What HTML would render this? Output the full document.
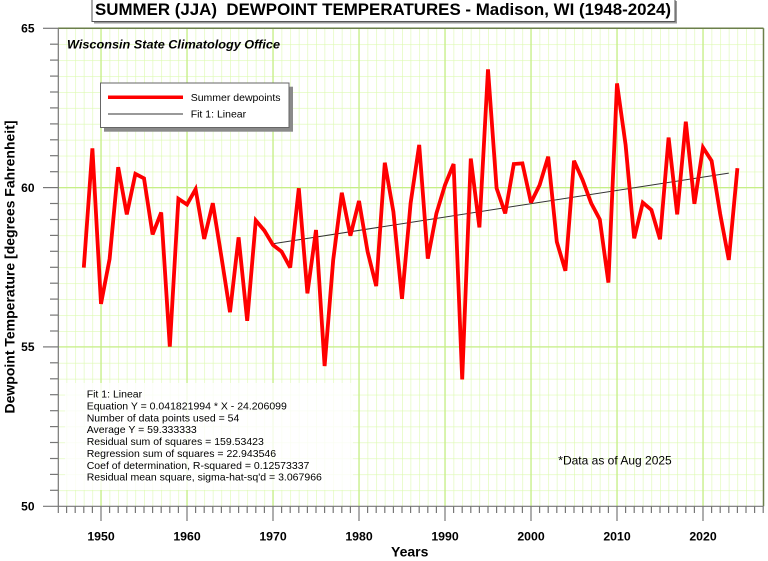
<!DOCTYPE html>
<html>
<head>
<meta charset="utf-8">
<style>
  html,body{margin:0;padding:0;background:#fff;}
  svg{display:block;}
  text{font-family:"Liberation Sans",Arial,sans-serif;}
</style>
</head>
<body>
<svg width="768" height="561" viewBox="0 0 768 561" xmlns="http://www.w3.org/2000/svg">
  <defs>
    <pattern id="grid" patternUnits="userSpaceOnUse" x="58" y="28.27" width="8.6" height="15.933">
      <line x1="0" y1="0" x2="0" y2="15.933" stroke="#dcf9b0" stroke-width="1.2"/>
      <line x1="0" y1="0" x2="8.6" y2="0" stroke="#dcf9b0" stroke-width="1.2"/>
    </pattern>
  </defs>
  <rect width="768" height="561" fill="#fff"/>
  <!-- plot grid -->
  <rect x="58" y="28.27" width="705.2" height="478" fill="url(#grid)"/>
  <!-- decade grid lines -->
  <g stroke="#c6ee88" stroke-width="1.3">
    <line x1="101" y1="28.3" x2="101" y2="506.3"/>
    <line x1="187" y1="28.3" x2="187" y2="506.3"/>
    <line x1="273" y1="28.3" x2="273" y2="506.3"/>
    <line x1="359" y1="28.3" x2="359" y2="506.3"/>
    <line x1="445" y1="28.3" x2="445" y2="506.3"/>
    <line x1="531" y1="28.3" x2="531" y2="506.3"/>
    <line x1="617" y1="28.3" x2="617" y2="506.3"/>
    <line x1="703" y1="28.3" x2="703" y2="506.3"/>
    <line x1="58" y1="187.6" x2="763" y2="187.6"/>
    <line x1="58" y1="346.9" x2="763" y2="346.9"/>
  </g>

  <!-- stats box -->
  <rect x="65" y="383" width="288" height="107" fill="#fff" opacity="0.8"/>

  <!-- frame -->
  <line x1="58" y1="28.3" x2="763.5" y2="28.3" stroke="#6b7f4a" stroke-width="1.5"/>
  <line x1="763.5" y1="28.3" x2="763.5" y2="506.3" stroke="#6b7f4a" stroke-width="1.5"/>
  <line x1="58.3" y1="28.3" x2="58.3" y2="506.3" stroke="#777" stroke-width="1.2"/>
  <line x1="43" y1="506.3" x2="763.5" y2="506.3" stroke="#777" stroke-width="1.2"/>

  <!-- y ticks -->
  <g stroke="#777" stroke-width="1.2">
    <line x1="43" y1="28.3" x2="58" y2="28.3"/>
    <line x1="43" y1="187.6" x2="58" y2="187.6"/>
    <line x1="43" y1="346.9" x2="58" y2="346.9"/>
    <line x1="50" y1="44.2" x2="58" y2="44.2"/>
    <line x1="50" y1="60.1" x2="58" y2="60.1"/>
    <line x1="50" y1="76.1" x2="58" y2="76.1"/>
    <line x1="50" y1="92.0" x2="58" y2="92.0"/>
    <line x1="50" y1="107.9" x2="58" y2="107.9"/>
    <line x1="50" y1="123.9" x2="58" y2="123.9"/>
    <line x1="50" y1="139.8" x2="58" y2="139.8"/>
    <line x1="50" y1="155.7" x2="58" y2="155.7"/>
    <line x1="50" y1="171.7" x2="58" y2="171.7"/>
    <line x1="50" y1="203.5" x2="58" y2="203.5"/>
    <line x1="50" y1="219.5" x2="58" y2="219.5"/>
    <line x1="50" y1="235.4" x2="58" y2="235.4"/>
    <line x1="50" y1="251.3" x2="58" y2="251.3"/>
    <line x1="50" y1="267.3" x2="58" y2="267.3"/>
    <line x1="50" y1="283.2" x2="58" y2="283.2"/>
    <line x1="50" y1="299.1" x2="58" y2="299.1"/>
    <line x1="50" y1="315.1" x2="58" y2="315.1"/>
    <line x1="50" y1="331.0" x2="58" y2="331.0"/>
    <line x1="50" y1="362.8" x2="58" y2="362.8"/>
    <line x1="50" y1="378.8" x2="58" y2="378.8"/>
    <line x1="50" y1="394.7" x2="58" y2="394.7"/>
    <line x1="50" y1="410.7" x2="58" y2="410.7"/>
    <line x1="50" y1="426.6" x2="58" y2="426.6"/>
    <line x1="50" y1="442.5" x2="58" y2="442.5"/>
    <line x1="50" y1="458.5" x2="58" y2="458.5"/>
    <line x1="50" y1="474.4" x2="58" y2="474.4"/>
    <line x1="50" y1="490.3" x2="58" y2="490.3"/>
  </g>
  <!-- x ticks -->
  <g stroke="#777" stroke-width="1.2">
    <line x1="58.3" y1="506" x2="58.3" y2="513"/>
    <line x1="66.6" y1="506" x2="66.6" y2="513"/>
    <line x1="75.2" y1="506" x2="75.2" y2="513"/>
    <line x1="83.8" y1="506" x2="83.8" y2="513"/>
    <line x1="92.4" y1="506" x2="92.4" y2="513"/>
    <line x1="101" y1="506" x2="101" y2="521"/>
    <line x1="109.6" y1="506" x2="109.6" y2="513"/>
    <line x1="118.2" y1="506" x2="118.2" y2="513"/>
    <line x1="126.8" y1="506" x2="126.8" y2="513"/>
    <line x1="135.4" y1="506" x2="135.4" y2="513"/>
    <line x1="144" y1="506" x2="144" y2="513"/>
    <line x1="152.6" y1="506" x2="152.6" y2="513"/>
    <line x1="161.2" y1="506" x2="161.2" y2="513"/>
    <line x1="169.8" y1="506" x2="169.8" y2="513"/>
    <line x1="178.4" y1="506" x2="178.4" y2="513"/>
    <line x1="187" y1="506" x2="187" y2="521"/>
    <line x1="195.6" y1="506" x2="195.6" y2="513"/>
    <line x1="204.2" y1="506" x2="204.2" y2="513"/>
    <line x1="212.8" y1="506" x2="212.8" y2="513"/>
    <line x1="221.4" y1="506" x2="221.4" y2="513"/>
    <line x1="230" y1="506" x2="230" y2="513"/>
    <line x1="238.6" y1="506" x2="238.6" y2="513"/>
    <line x1="247.2" y1="506" x2="247.2" y2="513"/>
    <line x1="255.8" y1="506" x2="255.8" y2="513"/>
    <line x1="264.4" y1="506" x2="264.4" y2="513"/>
    <line x1="273" y1="506" x2="273" y2="521"/>
    <line x1="281.6" y1="506" x2="281.6" y2="513"/>
    <line x1="290.2" y1="506" x2="290.2" y2="513"/>
    <line x1="298.8" y1="506" x2="298.8" y2="513"/>
    <line x1="307.4" y1="506" x2="307.4" y2="513"/>
    <line x1="316" y1="506" x2="316" y2="513"/>
    <line x1="324.6" y1="506" x2="324.6" y2="513"/>
    <line x1="333.2" y1="506" x2="333.2" y2="513"/>
    <line x1="341.8" y1="506" x2="341.8" y2="513"/>
    <line x1="350.4" y1="506" x2="350.4" y2="513"/>
    <line x1="359" y1="506" x2="359" y2="521"/>
    <line x1="367.6" y1="506" x2="367.6" y2="513"/>
    <line x1="376.2" y1="506" x2="376.2" y2="513"/>
    <line x1="384.8" y1="506" x2="384.8" y2="513"/>
    <line x1="393.4" y1="506" x2="393.4" y2="513"/>
    <line x1="402" y1="506" x2="402" y2="513"/>
    <line x1="410.6" y1="506" x2="410.6" y2="513"/>
    <line x1="419.2" y1="506" x2="419.2" y2="513"/>
    <line x1="427.8" y1="506" x2="427.8" y2="513"/>
    <line x1="436.4" y1="506" x2="436.4" y2="513"/>
    <line x1="445" y1="506" x2="445" y2="521"/>
    <line x1="453.6" y1="506" x2="453.6" y2="513"/>
    <line x1="462.2" y1="506" x2="462.2" y2="513"/>
    <line x1="470.8" y1="506" x2="470.8" y2="513"/>
    <line x1="479.4" y1="506" x2="479.4" y2="513"/>
    <line x1="488" y1="506" x2="488" y2="513"/>
    <line x1="496.6" y1="506" x2="496.6" y2="513"/>
    <line x1="505.2" y1="506" x2="505.2" y2="513"/>
    <line x1="513.8" y1="506" x2="513.8" y2="513"/>
    <line x1="522.4" y1="506" x2="522.4" y2="513"/>
    <line x1="531" y1="506" x2="531" y2="521"/>
    <line x1="539.6" y1="506" x2="539.6" y2="513"/>
    <line x1="548.2" y1="506" x2="548.2" y2="513"/>
    <line x1="556.8" y1="506" x2="556.8" y2="513"/>
    <line x1="565.4" y1="506" x2="565.4" y2="513"/>
    <line x1="574" y1="506" x2="574" y2="513"/>
    <line x1="582.6" y1="506" x2="582.6" y2="513"/>
    <line x1="591.2" y1="506" x2="591.2" y2="513"/>
    <line x1="599.8" y1="506" x2="599.8" y2="513"/>
    <line x1="608.4" y1="506" x2="608.4" y2="513"/>
    <line x1="617" y1="506" x2="617" y2="521"/>
    <line x1="625.6" y1="506" x2="625.6" y2="513"/>
    <line x1="634.2" y1="506" x2="634.2" y2="513"/>
    <line x1="642.8" y1="506" x2="642.8" y2="513"/>
    <line x1="651.4" y1="506" x2="651.4" y2="513"/>
    <line x1="660" y1="506" x2="660" y2="513"/>
    <line x1="668.6" y1="506" x2="668.6" y2="513"/>
    <line x1="677.2" y1="506" x2="677.2" y2="513"/>
    <line x1="685.8" y1="506" x2="685.8" y2="513"/>
    <line x1="694.4" y1="506" x2="694.4" y2="513"/>
    <line x1="703" y1="506" x2="703" y2="521"/>
    <line x1="711.6" y1="506" x2="711.6" y2="513"/>
    <line x1="720.2" y1="506" x2="720.2" y2="513"/>
    <line x1="728.8" y1="506" x2="728.8" y2="513"/>
    <line x1="737.4" y1="506" x2="737.4" y2="513"/>
    <line x1="746" y1="506" x2="746" y2="513"/>
    <line x1="754.6" y1="506" x2="754.6" y2="513"/>
    <line x1="763.2" y1="506" x2="763.2" y2="513"/>
  </g>

  <!-- tick labels -->
  <g font-size="12" font-weight="bold" fill="#000" text-anchor="end">
    <text x="34.5" y="32.6">65</text>
    <text x="34.5" y="191.9">60</text>
    <text x="34.5" y="351.2">55</text>
    <text x="34.5" y="510.6">50</text>
  </g>
  <g font-size="12.3" font-weight="bold" fill="#000" text-anchor="middle">
    <text x="101" y="540.7">1950</text>
    <text x="187" y="540.7">1960</text>
    <text x="273" y="540.7">1970</text>
    <text x="359" y="540.7">1980</text>
    <text x="445" y="540.7">1990</text>
    <text x="531" y="540.7">2000</text>
    <text x="617" y="540.7">2010</text>
    <text x="703" y="540.7">2020</text>
  </g>
  <text x="391" y="556.5" font-size="14" font-weight="bold" fill="#000">Years</text>
  <text transform="translate(14.5,267) rotate(-90)" text-anchor="middle" font-size="14" font-weight="bold" fill="#000">Dewpoint Temperature [degrees Fahrenheit]</text>

  <!-- fit line -->
  <line x1="273" y1="243.7" x2="728.8" y2="173.1" stroke="#333" stroke-width="1"/>

  <!-- data series -->
  <polyline fill="none" stroke="#ff0000" stroke-width="3.8" stroke-linejoin="miter" stroke-miterlimit="3"
    vector-effect="non-scaling-stroke"
    transform="translate(101,187.6) scale(8.6,-31.867)"
    points="-2,-2.51 -1,1.23 0,-3.65 1,-2.24 2,0.64 3,-0.84 4,0.43 5,0.29 6,-1.47 7,-0.78 8,-4.99 9,-0.35 10,-0.53 11,-0.05 12,-1.61 13,-0.49 14,-2.17 15,-3.91 16,-1.56 17,-4.18 18,-1.03 19,-1.35 20,-1.8 21,-2.01 22,-2.51 23,-0.02 24,-3.32 25,-1.33 26,-5.6 27,-2.27 28,-0.16 29,-1.51 30,-0.42 31,-2.01 32,-3.09 33,0.78 34,-0.76 35,-3.49 36,-0.49 37,1.34 38,-2.23 39,-0.81 40,0.08 41,0.74 42,-6.02 43,0.91 44,-1.25 45,3.71 46,-0.02 47,-0.81 48,0.74 49,0.76 50,-0.47 51,0.08 52,0.97 53,-1.7 54,-2.61 55,0.84 56,0.24 57,-0.49 58,-1.0 59,-2.98 60,3.27 61,1.34 62,-1.59 63,-0.47 64,-0.7 65,-1.62 66,1.57 67,-0.84 68,2.07 69,-0.51 70,1.26 71,0.84 72,-0.83 73,-2.27 74,0.61"/>

  <!-- stats text -->
  <g font-size="10.5" fill="#000">
    <text x="86.7" y="397.5">Fit 1: Linear</text>
    <text x="86.7" y="409.4">Equation Y = 0.041821994 * X - 24.206099</text>
    <text x="86.7" y="421.3">Number of data points used = 54</text>
    <text x="86.7" y="433.2">Average Y = 59.333333</text>
    <text x="86.7" y="445.1">Residual sum of squares = 159.53423</text>
    <text x="86.7" y="456.9">Regression sum of squares = 22.943546</text>
    <text x="86.7" y="468.8">Coef of determination, R-squared = 0.12573337</text>
    <text x="86.7" y="480.7">Residual mean square, sigma-hat-sq'd = 3.067966</text>
  </g>
  <text x="558.3" y="464.5" font-size="12" fill="#000">*Data as of Aug 2025</text>

  <!-- subtitle -->
  <text x="67" y="48.3" font-size="12" font-weight="bold" font-style="italic" fill="#000" textLength="213" lengthAdjust="spacingAndGlyphs">Wisconsin State Climatology Office</text>

  <!-- legend -->
  <rect x="104" y="86.7" width="189" height="45" fill="#8a8a8a"/>
  <rect x="100.5" y="83" width="188.5" height="44.5" fill="#fff" stroke="#666" stroke-width="1"/>
  <line x1="108" y1="97.3" x2="183" y2="97.3" stroke="#ff0000" stroke-width="3.5"/>
  <line x1="108" y1="114" x2="183" y2="114" stroke="#333" stroke-width="1"/>
  <text x="190.7" y="100.9" font-size="10.5" fill="#000">Summer dewpoints</text>
  <text x="190.7" y="117.5" font-size="10.5" fill="#000">Fit 1: Linear</text>

  <!-- title -->
  <rect x="94" y="1" width="583" height="22.5" fill="#999"/>
  <rect x="92" y="-1" width="583" height="22.5" fill="#fff" stroke="#555" stroke-width="1"/>
  <text x="95" y="15.2" font-size="17" font-weight="bold" fill="#000" textLength="576" lengthAdjust="spacingAndGlyphs">SUMMER (JJA)&#160; DEWPOINT TEMPERATURES - Madison, WI (1948-2024)</text>
</svg>
</body>
</html>
